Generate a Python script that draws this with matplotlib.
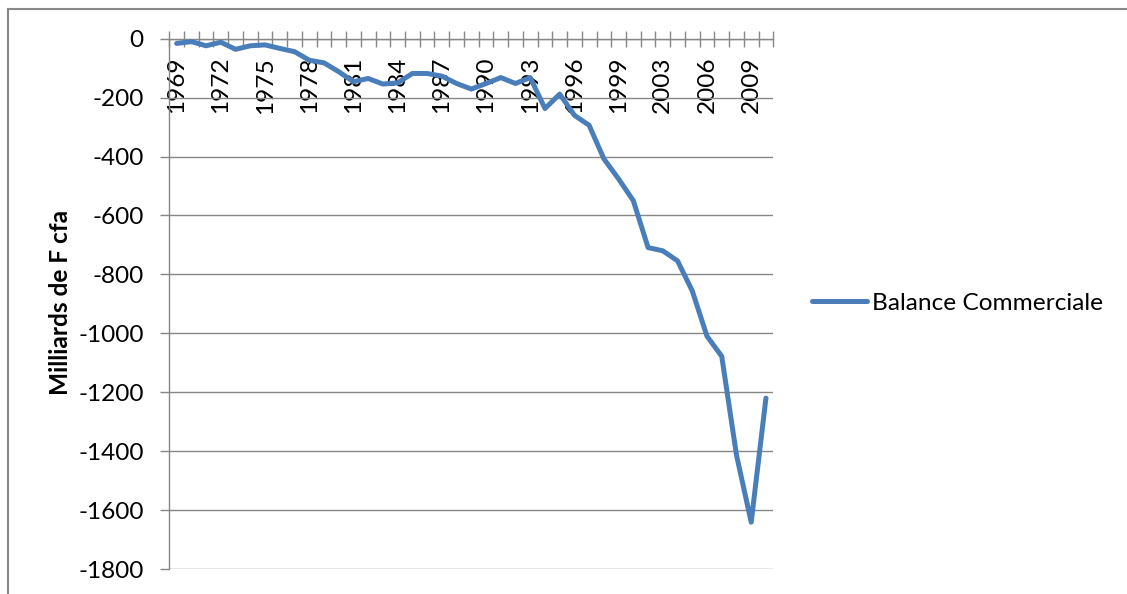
import matplotlib.pyplot as plt
from matplotlib.lines import Line2D
from matplotlib.ticker import FixedLocator, NullFormatter, FixedFormatter

plt.rcParams['font.family'] = ['Lato', 'DejaVu Sans']

# years on the category axis (one year between 1999 and 2003 is absent in the source)
years = list(range(1969, 2002)) + list(range(2003, 2011))
# trade balance, billions of F cfa
balance = [-16, -10, -24, -12, -36, -24, -21, -33, -44, -73,
           -82, -112, -146, -135, -154, -150, -118, -118, -127, -152,
           -171, -152, -132, -152, -132, -237, -188, -260, -294, -408,
           -476, -550, -709, -720, -754, -856, -1010, -1078, -1413, -1641,
           -1220]
yticks = list(range(-1800, 1, 200))

grey = '#868686'
fs = 17.6
W, H = 1127, 594
fig = plt.figure(figsize=(W / 100, H / 100), dpi=100)
ax = fig.add_axes([169.3 / W, 25 / H, 604 / W, 530.3 / H])

x = list(range(len(years)))
line, = ax.plot(x, balance, color='#4A7EBB', lw=3.6, solid_capstyle='round',
                solid_joinstyle='round', label='Balance Commerciale', zorder=3)

ax.set_xlim(-0.5, len(years) - 0.5)
ax.set_ylim(-1800, 0)

# category axis sits at y = 0 (top of the plot)
ax.spines['bottom'].set_position(('data', 0))
ax.spines['top'].set_visible(False)
ax.spines['right'].set_visible(False)
for s in ('bottom', 'left'):
    ax.spines[s].set_color(grey)
    ax.spines[s].set_linewidth(1.0)

ax.xaxis.set_major_locator(FixedLocator([i - 0.5 for i in range(len(years) + 1)]))
ax.xaxis.set_major_formatter(NullFormatter())
lab_pos = list(range(0, len(years), 3))
ax.xaxis.set_minor_locator(FixedLocator(lab_pos))
ax.xaxis.set_minor_formatter(FixedFormatter([str(years[i]) for i in lab_pos]))
ax.tick_params(axis='x', which='major', direction='inout', length=11.5, width=1, color=grey)
ax.tick_params(axis='x', which='minor', length=0, pad=13, labelsize=fs, labelrotation=90)

ax.set_yticks(yticks)
ax.set_yticklabels([str(v) for v in yticks])
ax.tick_params(axis='y', direction='out', length=6.5, width=1, color=grey, pad=12, labelsize=fs)
ax.yaxis.grid(True, color=grey, lw=1.0)
ax.set_axisbelow(True)

fig.text(60 / W, 1 - 302 / H, 'Milliards de F cfa', rotation=90, ha='center', va='center',
         fontsize=fs, fontweight='bold')

fig.legend(handles=[line], loc='center left', bbox_to_anchor=(811.7 / W, 1 - 303.3 / H),
           frameon=False, fontsize=fs, handlelength=2.25, handletextpad=0.22,
           borderpad=0, borderaxespad=0)

# chart area border (left and top visible)
fig.add_artist(Line2D([8 / W, 8 / W], [0, 1 - 9 / H], color='#888888', lw=1.5))
fig.add_artist(Line2D([8 / W, 1], [1 - 9 / H, 1 - 9 / H], color='#888888', lw=1.5))

fig.savefig('out.png', dpi=100)
